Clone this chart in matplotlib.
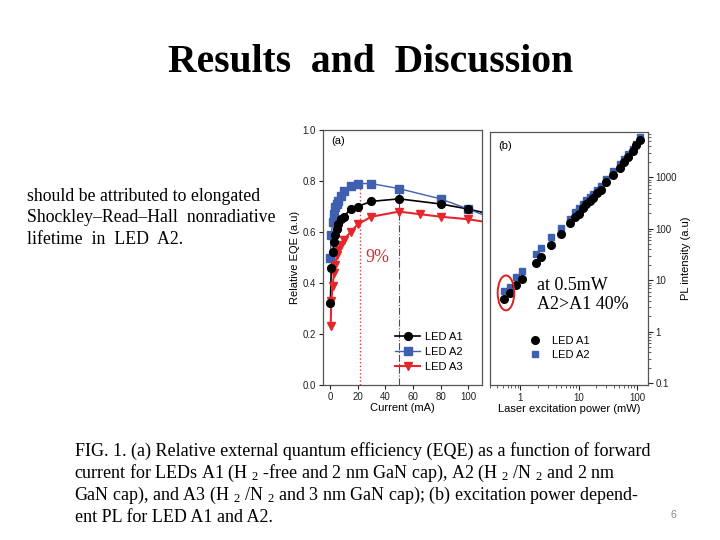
import matplotlib
matplotlib.use("Agg")
import matplotlib.pyplot as plt
from matplotlib.lines import Line2D
from matplotlib.patches import Ellipse
from matplotlib.ticker import NullFormatter, LogLocator, FuncFormatter

plt.rcParams['mathtext.fontset'] = 'custom'
plt.rcParams['mathtext.rm'] = 'Liberation Serif'
plt.rcParams['mathtext.it'] = 'Liberation Serif:italic'
plt.rcParams['font.family'] = ['Liberation Sans', 'DejaVu Sans']

# ---- panel (a) data: relative EQE vs current ----
curr_a1 = [0.3, 1, 2, 3, 4, 5, 6, 8, 10, 15, 20, 30, 50, 80, 100]
eqe_a1 = [0.32, 0.46, 0.52, 0.56, 0.59, 0.61, 0.63, 0.65, 0.66, 0.69, 0.70, 0.72, 0.73, 0.71, 0.69]
curr_a2 = [0.3, 1, 2, 3, 4, 5, 6, 8, 10, 15, 20, 30, 50, 80, 100]
eqe_a2 = [0.50, 0.59, 0.64, 0.67, 0.70, 0.71, 0.72, 0.74, 0.76, 0.78, 0.79, 0.79, 0.77, 0.73, 0.69]
curr_a3 = [0.5, 1, 2, 3, 4, 5, 6, 8, 10, 15, 20, 30, 50, 65, 80, 100]
eqe_a3 = [0.23, 0.33, 0.39, 0.44, 0.47, 0.51, 0.53, 0.55, 0.57, 0.60, 0.63, 0.66, 0.68, 0.67, 0.66, 0.65]
# fitted-curve continuation at the right edge
curve_end_x = 112
curve_end = {'A1': 0.675, 'A2': 0.665, 'A3': 0.64}
# marker lines
peak_x = [21.5, 50]
peak_y = [0.79, 0.77]

# ---- panel (b) data: PL intensity vs laser power ----
power = [0.53, 0.66, 0.84, 1.05, 1.82, 2.27, 3.38, 4.9, 7.0, 8.8, 10, 11.9, 13.6,
         15.5, 17.7, 20.7, 23.7, 30, 39, 51, 60, 71, 84, 96, 113]
pl_a1 = [4.3, 5.6, 8.1, 10.5, 22, 29, 48, 79, 128, 172, 195, 250, 300,
         350, 400, 490, 570, 820, 1100, 1530, 2000, 2500, 3200, 4200, 5300]
pl_a2 = [6.2, 7.6, 11.7, 15.4, 33, 42, 70, 105, 155, 210, 250, 310, 360,
         420, 480, 570, 680, 950, 1300, 1800, 2300, 2800, 3500, 4400, 6000]

BLUE = '#3f5fb0'
RED = '#e5262a'
SPINE = '#555555'

fig = plt.figure(figsize=(7.2, 5.4), dpi=100)
fig.patch.set_facecolor('white')

serif = ['Liberation Serif', 'DejaVu Serif']

fig.text(0.514, 0.884, 'Results  and  Discussion', ha='center', va='center',
         fontsize=28.5, fontweight='bold', family=serif)

left_lines = ['should be attributed to elongated',
              'Shockley\u2013Read\u2013Hall  nonradiative',
              'lifetime  in  LED  A2.']
left_base = [201, 222.5, 244]
for line, b in zip(left_lines, left_base):
    fig.text(27/720, 1 - b/540, line, ha='left', va='baseline', fontsize=12.8, family=serif)

# ---- axes (a) ----
axa = fig.add_axes([323/720, 1-385/540, 159/720, 255/540])
axa.plot(curr_a1 + [curve_end_x], eqe_a1 + [curve_end['A1']], color='black', lw=1.2, zorder=2)
axa.plot(curr_a2 + [curve_end_x], eqe_a2 + [curve_end['A2']], color=BLUE, lw=1.0, zorder=2)
axa.plot(curr_a3 + [curve_end_x], eqe_a3 + [curve_end['A3']], color=RED, lw=1.5, zorder=2)
axa.plot(curr_a2, eqe_a2, ls='none', marker='s', ms=5.2, color=BLUE, zorder=3)
axa.plot(curr_a1, eqe_a1, ls='none', marker='o', ms=5.6, color='black', zorder=4)
axa.plot(curr_a3, eqe_a3, ls='none', marker='v', ms=6.2, color=RED, zorder=3)
axa.plot([peak_x[0]] * 2, [0, peak_y[0]], color='#d04040', ls=':', lw=1.0, zorder=1)
axa.plot([peak_x[1]] * 2, [0, peak_y[1]], color='#903040', ls='-.', lw=0.8, zorder=1)
axa.set_xlim(-5, 110)
axa.set_ylim(0, 1.0)
axa.set_xticks([0, 20, 40, 60, 80, 100])
axa.set_yticks([0.0, 0.2, 0.4, 0.6, 0.8, 1.0])
axa.yaxis.set_major_formatter(FuncFormatter(lambda v, p: f'{v:.1f}'))
axa.tick_params(direction='out', length=3, width=0.8, labelsize=7, colors='#222222', pad=2)
axa.set_xlabel('Current (mA)', fontsize=8, labelpad=1)
axa.set_ylabel('Relative EQE (a.u)', fontsize=8, labelpad=2)
for s in axa.spines.values():
    s.set_color(SPINE)
    s.set_linewidth(0.9)
axa.text(0.05, 0.975, '(a)', transform=axa.transAxes, ha='left', va='top', fontsize=8)
axa.text(26, 0.50, '9%', color='#d03030', fontsize=13, family=serif, ha='left', va='center')
handles_a = [Line2D([], [], color='black', lw=1.2, marker='o', ms=5.6),
             Line2D([], [], color=BLUE, lw=1.0, marker='s', ms=5.2),
             Line2D([], [], color=RED, lw=1.5, marker='v', ms=6.2)]
axa.legend(handles_a, ['LED A1', 'LED A2', 'LED A3'], loc='lower right',
           bbox_to_anchor=(0.93, 0.02), frameon=False, fontsize=8,
           handlelength=2.2, handletextpad=0.5, labelspacing=0.45, borderpad=0.2)

# ---- axes (b) ----
axb = fig.add_axes([490/720, 1-385/540, 158/720, 253/540])
axb.set_xscale('log')
axb.set_yscale('log')
axb.plot(power, pl_a2, ls='none', marker='s', ms=5, color=BLUE, zorder=3)
axb.plot(power, pl_a1, ls='none', marker='o', ms=5.5, color='black', zorder=4)
axb.set_xlim(0.3, 155)
axb.set_ylim(0.093, 7600)
axb.yaxis.tick_right()
axb.yaxis.set_label_position('right')
axb.set_yticks([0.1, 1, 10, 100, 1000])
axb.set_yticklabels(['0.1', '1', '10', '100', '1000'])
axb.set_xticks([1, 10, 100])
axb.set_xticklabels(['1', '10', '100'])
axb.xaxis.set_minor_locator(LogLocator(base=10, subs=range(2, 10)))
axb.yaxis.set_minor_locator(LogLocator(base=10, subs=range(2, 10)))
axb.xaxis.set_minor_formatter(NullFormatter())
axb.yaxis.set_minor_formatter(NullFormatter())
axb.tick_params(which='major', direction='out', length=3.5, width=0.8, labelsize=7, colors='#222222', pad=2)
axb.tick_params(which='minor', direction='out', length=2, width=0.6, colors='#444444')
axb.set_xlabel('Laser excitation power (mW)', fontsize=8, labelpad=1)
axb.set_ylabel('PL intensity (a.u)', fontsize=8, labelpad=3)
for s in axb.spines.values():
    s.set_color(SPINE)
    s.set_linewidth(0.9)
axb.text(0.05, 0.965, '(b)', transform=axb.transAxes, ha='left', va='top', fontsize=8)
axb.add_patch(Ellipse((0.101, 0.364), 0.105, 0.138, transform=axb.transAxes,
                      fill=False, edgecolor='#dd2020', lw=1.4, zorder=5))
axb.text(0.30, 0.355, 'at 0.5mW\nA2>A1 40%', transform=axb.transAxes, ha='left', va='center',
         fontsize=13, family=serif, linespacing=1.2)
handles_b = [Line2D([], [], ls='none', color='black', marker='o', ms=5.5),
             Line2D([], [], ls='none', color=BLUE, marker='s', ms=5)]
axb.legend(handles_b, ['LED A1', 'LED A2'], loc='upper left',
           bbox_to_anchor=(0.2, 0.225), frameon=False, fontsize=8,
           handlelength=1.0, handletextpad=1.0, labelspacing=0.35, borderpad=0.2)

# ---- caption ----
cap_lines = [
    'FIG. 1. (a) Relative external quantum efficiency (EQE) as a function of forward',
    r'current for LEDs A1 (H $_{2}$ -free and 2 nm GaN cap), A2 (H $_{2}$ /N $_{2}$ and 2 nm',
    r'GaN cap), and A3 (H $_{2}$ /N $_{2}$ and 3 nm GaN cap); (b) excitation power depend-',
    'ent PL for LED A1 and A2.',
]
cap_base = [455.5, 477.5, 500, 522]
cap_x = [75, 73.5, 73.5, 75]
for line, b, x in zip(cap_lines, cap_base, cap_x):
    fig.text(x/720, 1 - b/540, line, ha='left', va='baseline', fontsize=13, family=serif)

fig.text(673/720, 1 - 515/540, '6', ha='center', va='center', fontsize=7.5, color='#888888')

fig.savefig('out.png', dpi=100, facecolor='white')
